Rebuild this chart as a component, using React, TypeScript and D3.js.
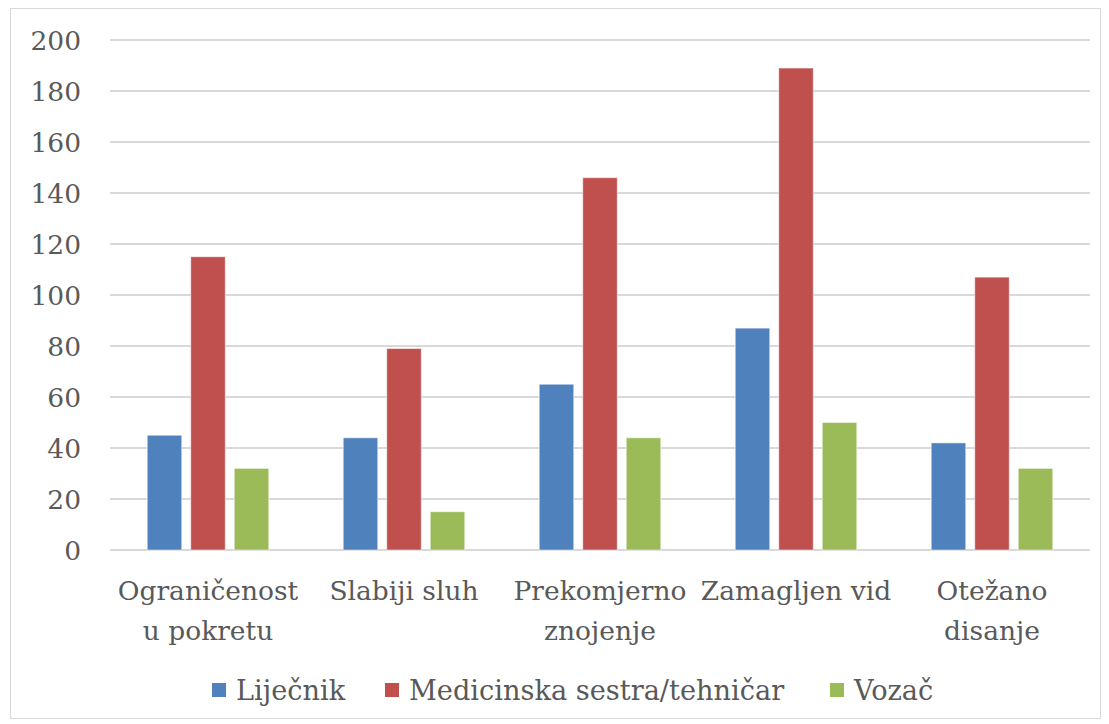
import React from "react";
import * as d3 from "d3";

const categories = [["Ograničenost", "u pokretu"], ["Slabiji sluh"], ["Prekomjerno", "znojenje"], ["Zamagljen vid"], ["Otežano", "disanje"]];
const seriesNames = ["Liječnik", "Medicinska sestra/tehničar", "Vozač"];
const lijecnik = [45, 44, 65, 87, 42];
const sestra = [115, 79, 146, 189, 107];
const vozac = [32, 15, 44, 50, 32];
const yTicks = [0, 20, 40, 60, 80, 100, 120, 140, 160, 180, 200];
const colors = ["#4f81bd", "#c0504d", "#9bbb59"];

const W = 1109, H = 724;
const font = "'DejaVu Serif', serif";

export default function App() {
  const series = [lijecnik, sestra, vozac];
  const x0 = d3.scaleBand<number>().domain(d3.range(categories.length)).range([110, 1090]);
  const x1 = d3.scaleBand<number>().domain([0, 1, 2]).range([0, x0.bandwidth()]).paddingInner(0.207).paddingOuter(0.856);
  const y = d3.scaleLinear().domain([0, 200]).range([550, 40]);
  const legendX = [212, 385, 830];
  return (
    <svg width={W} height={H} style={{ position: "absolute", left: 0, top: 0 }} fontFamily={font}>
      <rect x={0} y={0} width={W} height={H} fill="#fff" />
      <rect x={10.5} y={8.5} width={1090} height={710} fill="none" stroke="#d9d9d9" strokeWidth={1} />
      {yTicks.map((t) => (
        <g key={t}>
          <line x1={110} x2={1090} y1={y(t)} y2={y(t)} stroke="#d9d9d9" strokeWidth={2} />
          <text x={81} y={y(t)} dy="0.36em" textAnchor="end" fontSize={26.5} fill="#595959">{t}</text>
        </g>
      ))}
      {series.map((s, si) =>
        s.map((v, ci) => (
          <rect key={si + "-" + ci} x={(x0(ci) as number) + (x1(si) as number)} y={y(v)} width={x1.bandwidth()} height={y(0) - y(v)} fill={colors[si]} stroke="#ffffff" strokeOpacity={0.5} strokeWidth={1} />
        ))
      )}
      {categories.map((lines, ci) => (
        <text key={ci} x={(x0(ci) as number) + x0.bandwidth() / 2} y={600} textAnchor="middle" fontSize={26.5} fill="#595959">
          {lines.map((l, li) => (
            <tspan key={li} x={(x0(ci) as number) + x0.bandwidth() / 2} dy={li === 0 ? 0 : 40}>{l}</tspan>
          ))}
        </text>
      ))}
      {seriesNames.map((n, i) => (
        <g key={n}>
          <rect x={legendX[i]} y={683} width={14} height={14} fill={colors[i]} />
          <text x={legendX[i] + 24} y={690} dy="0.36em" fontSize={27.2} fill="#595959">{n}</text>
        </g>
      ))}
    </svg>
  );
}
